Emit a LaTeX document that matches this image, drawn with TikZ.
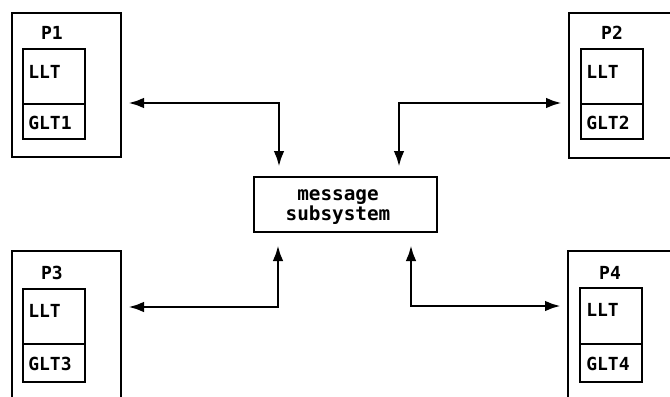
\documentclass[tikz,border=0pt]{standalone}
\usepackage{fontspec}
\setmainfont{DejaVu Sans Mono}
\usetikzlibrary{arrows.meta,fit}
\begin{document}
\begin{tikzpicture}[x=0.75pt,y=-0.75pt,
  box/.style={draw, line width=1.5pt, inner sep=0pt},
  lbl/.style={inner sep=0pt, font=\fontsize{13.5}{14}\selectfont\bfseries},
  conn/.style={line width=2.2pt, {Latex[length=12pt,width=8pt]}-{Latex[length=12pt,width=8pt]}, shorten >=4.5pt}]
  \useasboundingbox (0,0) rectangle (670,396);
  \clip (0,0) rectangle (670,396);

  % processor P1
  \node[box, fit={(12,13)(121,157)}] (p1) {};
  \node[box, fit={(23,49)(85,104)}] (llt1) {};
  \node[box, fit={(23,104)(85,139)}] (glt1) {};
  \node[lbl] (p1t) at (52,33) {P1};
  \node[lbl, anchor=west] (llt1t) at (28,72) {LLT};
  \node[lbl, anchor=west] (glt1t) at (28,123) {GLT1};

  % processor P2
  \node[box, fit={(569,13)(700,158)}] (p2) {};
  \node[box, fit={(581,49)(643,104)}] (llt2) {};
  \node[box, fit={(581,104)(643,139)}] (glt2) {};
  \node[lbl] (p2t) at (612,33) {P2};
  \node[lbl, anchor=west] (llt2t) at (586,72) {LLT};
  \node[lbl, anchor=west] (glt2t) at (586,123) {GLT2};

  % processor P3
  \node[box, fit={(12,251)(121,430)}] (p3) {};
  \node[box, fit={(23,289)(85,344)}] (llt3) {};
  \node[box, fit={(23,344)(85,382)}] (glt3) {};
  \node[lbl] (p3t) at (52,273) {P3};
  \node[lbl, anchor=west] (llt3t) at (28,311) {LLT};
  \node[lbl, anchor=west] (glt3t) at (28,364) {GLT3};

  % processor P4
  \node[box, fit={(568,251)(700,430)}] (p4) {};
  \node[box, fit={(580,288)(642,344)}] (llt4) {};
  \node[box, fit={(580,344)(642,382)}] (glt4) {};
  \node[lbl] (p4t) at (610,273) {P4};
  \node[lbl, anchor=west] (llt4t) at (586,310) {LLT};
  \node[lbl, anchor=west] (glt4t) at (586,364) {GLT4};

  % message subsystem
  \node[box, fit={(254,177)(437,232)}] (msg) {};
  \node[inner sep=0pt, align=center, font=\fontsize{14.5}{14.5}\selectfont\bfseries] (msgt) at (338,207) {message\\subsystem};

  % links between the processors and the message subsystem
  \draw[conn, shorten <=6.75pt] (279,0 |- msg.north) |- (p1.east |- glt1.north);
  \draw[conn, shorten <=6.75pt] (399,0 |- msg.north) |- (p2.west |- glt2.north);
  \draw[conn, shorten <=9pt] (278,0 |- msg.south) |- (p3.east |- 0,307);
  \draw[conn, shorten <=9pt] (411,0 |- msg.south) |- (p4.west |- 0,306);
\end{tikzpicture}
\end{document}
